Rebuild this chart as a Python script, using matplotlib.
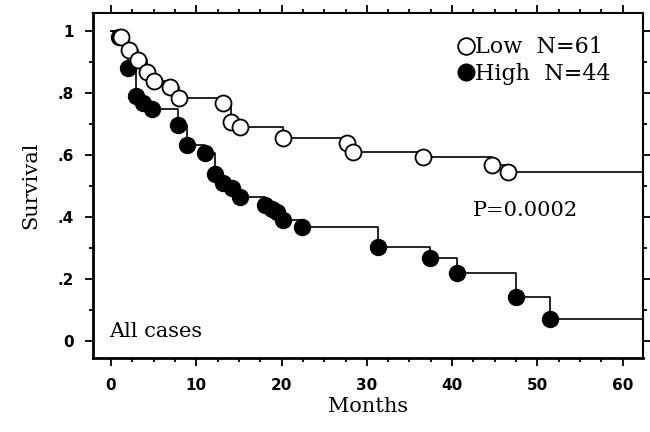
import matplotlib
matplotlib.use("Agg")
import matplotlib.pyplot as plt
from matplotlib.lines import Line2D
from matplotlib.ticker import MultipleLocator, FixedFormatter, FixedLocator

# Kaplan-Meier style step data (months, survival)
low_t = [0, 1.2, 2.1, 3.2, 4.2, 5.0, 6.9, 8.0, 13.1, 14.1, 15.1, 20.2, 27.7, 28.4, 36.6, 44.7, 46.5, 62.3]
low_s = [1.0, 0.98, 0.94, 0.906, 0.868, 0.839, 0.819, 0.784, 0.768, 0.706, 0.69, 0.655, 0.639, 0.61, 0.594, 0.568, 0.545, 0.545]

high_t = [0, 0.9, 2.0, 3.0, 3.8, 4.8, 7.9, 8.9, 11.0, 12.2, 13.1, 14.2, 15.1, 18.1, 18.9, 19.5, 20.2, 22.4,
          31.3, 37.4, 40.6, 47.5, 51.5, 62.3]
high_s = [1.0, 0.98, 0.88, 0.79, 0.768, 0.748, 0.697, 0.632, 0.606, 0.539, 0.51, 0.494, 0.465, 0.439, 0.425,
          0.416, 0.39, 0.368, 0.303, 0.268, 0.219, 0.142, 0.071, 0.071]

y_ticks = [0, 0.2, 0.4, 0.6, 0.8, 1.0]
y_labels = ["0", ".2", ".4", ".6", ".8", "1"]

serif = "DejaVu Serif"

fig = plt.figure(figsize=(6.5, 4.32), dpi=100)
ax = fig.add_axes([0.143, 0.171, 0.846, 0.799])

# steps
ax.step(low_t, low_s, where="post", color="black", lw=1.2)
ax.step(high_t, high_s, where="post", color="black", lw=1.2)
# event markers (skip start and end points)
ax.plot(high_t[1:-1], high_s[1:-1], "o", ms=11.5, mfc="black", mec="black")
ax.plot(low_t[1:-1], low_s[1:-1], "o", ms=11.5, mfc="white", mec="black", mew=1.3)

ax.set_xlim(-2.1, 62.35)
ax.set_ylim(-0.055, 1.058)

ax.xaxis.set_major_locator(MultipleLocator(10))
ax.xaxis.set_minor_locator(MultipleLocator(2.5))
ax.yaxis.set_major_locator(FixedLocator(y_ticks))
ax.yaxis.set_major_formatter(FixedFormatter(y_labels))
ax.yaxis.set_minor_locator(MultipleLocator(0.1))

ax.tick_params(which="both", direction="out", top=True, right=True, width=1.3)
ax.tick_params(which="major", length=6, pad=8)
ax.tick_params(which="minor", length=3)
for lab in ax.get_xticklabels() + ax.get_yticklabels():
    lab.set_fontfamily("DejaVu Sans")
    lab.set_fontweight("bold")
    lab.set_fontsize(11)

for side in ["left", "bottom"]:
    ax.spines[side].set_linewidth(2)
for side in ["top", "right"]:
    ax.spines[side].set_linewidth(1.5)

ax.set_xlabel("Months", fontfamily=serif, fontsize=15, labelpad=3)
ax.set_ylabel("Survival", fontfamily=serif, fontsize=15, labelpad=12)

ax.text(-0.2, 0.032, "All cases", fontfamily=serif, fontsize=15, va="center", ha="left")
ax.text(42.4, 0.42, "P=0.0002", fontfamily=serif, fontsize=15, va="center", ha="left")

handles = [Line2D([], [], ls="", marker="o", ms=12, mfc="white", mec="black", mew=1.3),
           Line2D([], [], ls="", marker="o", ms=12, mfc="black", mec="black")]
ax.legend(handles, ["Low  N=61", "High  N=44"], loc="upper right", bbox_to_anchor=(0.978, 0.99),
          frameon=False, handlelength=0.6, handletextpad=0.1, labelspacing=0.2,
          prop=dict(family=serif, size=16))

fig.savefig("out.png", dpi=100)
